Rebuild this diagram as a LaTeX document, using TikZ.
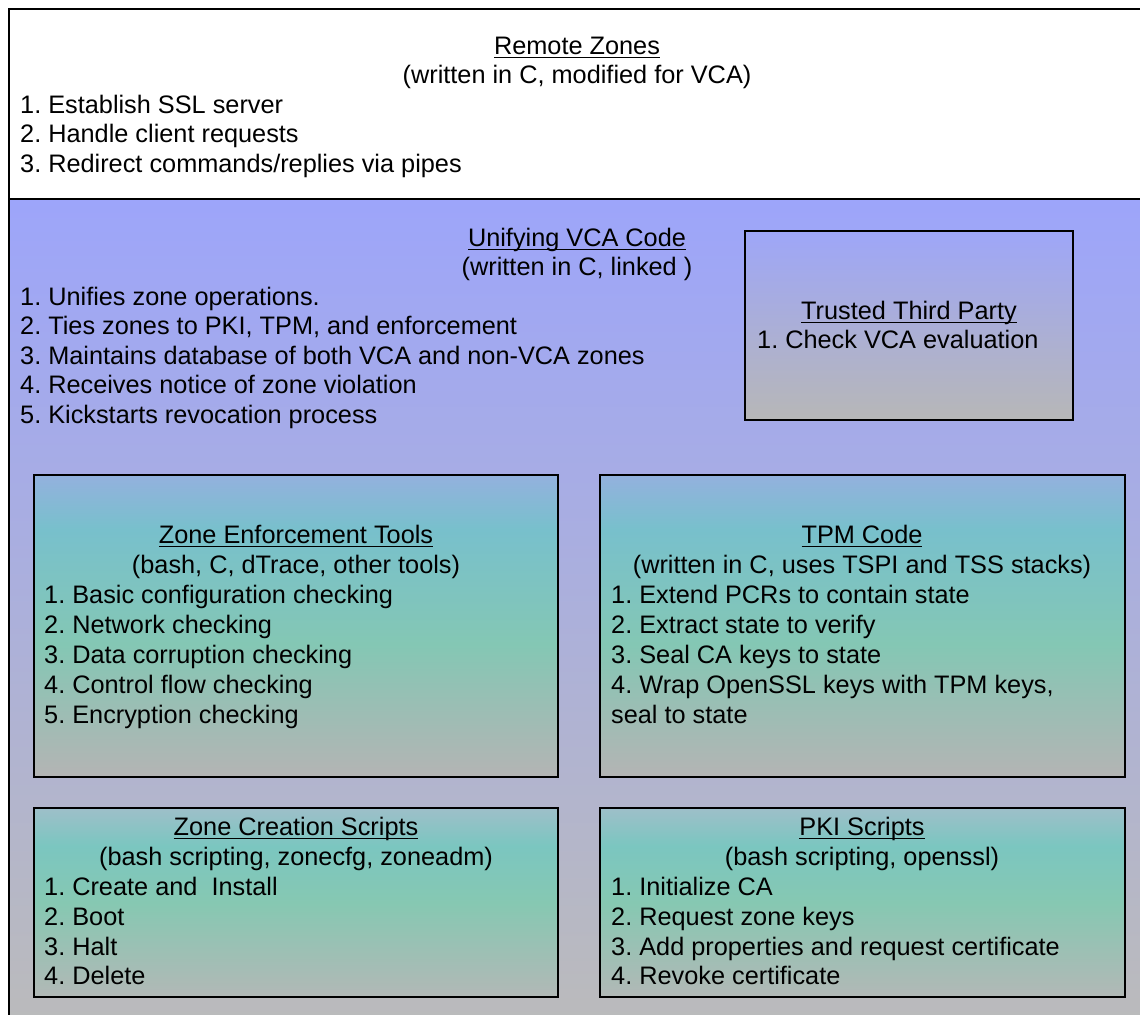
\documentclass[tikz,border=0pt]{standalone}
\usepackage{fontspec}
\setmainfont{Liberation Sans}

% colours of the panels and boxes
\definecolor{panelblue}{HTML}{9DA5FA}
\definecolor{panelgray}{HTML}{BBBBBB}
\definecolor{tttop}{HTML}{9EA6F8}
\definecolor{ttbottom}{HTML}{B7B7B7}
\definecolor{boxblue}{HTML}{93B1DE}
\definecolor{boxteal}{HTML}{78C0CC}
\definecolor{boxgreen}{HTML}{84C7B4}
\definecolor{boxgray}{HTML}{B4B4B4}
\definecolor{scrtop}{HTML}{9EBFC9}
\definecolor{scrteal}{HTML}{7BC6C0}
\definecolor{scrgreen}{HTML}{86C8B2}
\definecolor{scrgray}{HTML}{B2B8B6}

% vertical shadings of the boxes (the path maps to 25bp..75bp)
\pgfdeclareverticalshading{toolshade}{100bp}{%
  color(0bp)=(boxgray); color(25bp)=(boxgray);
  color(47bp)=(boxgreen); color(66bp)=(boxteal);
  color(75bp)=(boxblue); color(100bp)=(boxblue)}
\pgfdeclareverticalshading{scriptshade}{100bp}{%
  color(0bp)=(scrgray); color(25bp)=(scrgray);
  color(50bp)=(scrgreen); color(65bp)=(scrteal);
  color(75bp)=(scrtop); color(100bp)=(scrtop)}

% underlined title
\newcommand\ulined[1]{\setbox0=\hbox{#1}\rlap{\rule[-4bp]{\wd0}{1.2bp}}\box0}

\tikzset{
  frame/.style={draw=black, line width=1.6bp},
  toolbox/.style={frame, shading=toolshade},
  scriptbox/.style={frame, shading=scriptshade},
  txt/.style={inner sep=0pt, font=\fontsize{25.3bp}{30bp}\selectfont\frenchspacing},
  ttl/.style={txt, anchor=base},
  itm/.style={txt, anchor=base west},
}

\begin{document}
\begin{tikzpicture}[x=1bp, y=-1bp]
\useasboundingbox (0,0) rectangle (1140,1015);
\clip (0,0) rectangle (1140,1015);

% outer panels
\fill[white] (0,0) rectangle (1140,1015);
\shade[top color=panelblue, bottom color=panelgray] (9,199) rectangle (1146,1030);
\draw[frame] (9,9) rectangle (1146,1030);
\draw[frame] (9,199) -- (1146,199);

% Remote Zones
\node[ttl] (rz-t) at (577,54) {\ulined{Remote Zones}};
\node[ttl] (rz-s) at (577,83.5) {(written in C, modified for VCA)};
\node[itm] (rz-1) at (20,113) {1. Establish SSL server};
\node[itm] (rz-2) at (20,142.5) {2. Handle client requests};
\node[itm] (rz-3) at (20,172) {3. Redirect commands/replies via pipes};

% Unifying VCA Code
\node[ttl] (uv-t) at (577,246) {\ulined{Unifying VCA Code}};
\node[ttl] (uv-s) at (577,275.5) {(written in C, linked )};
\node[itm] (uv-1) at (20,305) {1. Unifies zone operations.};
\node[itm] (uv-2) at (20,334.5) {2. Ties zones to PKI, TPM, and enforcement};
\node[itm] (uv-3) at (20,364) {3. Maintains database of both VCA and non-VCA zones};
\node[itm] (uv-4) at (20,393.5) {4. Receives notice of zone violation};
\node[itm] (uv-5) at (20,423) {5. Kickstarts revocation process};

% Trusted Third Party
\shade[frame, top color=tttop, bottom color=ttbottom] (745,231) rectangle (1073,420);
\node[ttl] (tt-t) at (909,319) {\ulined{Trusted Third Party}};
\node[itm] (tt-1) at (757,348) {1. Check VCA evaluation};

% Zone Enforcement Tools
\shade[toolbox] (34,475) rectangle (558,777);
\node[ttl] (ze-t) at (296,543) {\ulined{Zone Enforcement Tools}};
\node[ttl] (ze-s) at (296,573) {(bash, C, dTrace, other tools)};
\node[itm] (ze-1) at (44,603) {1. Basic configuration checking};
\node[itm] (ze-2) at (44,633) {2. Network checking};
\node[itm] (ze-3) at (44,663) {3. Data corruption checking};
\node[itm] (ze-4) at (44,693) {4. Control flow checking};
\node[itm] (ze-5) at (44,723) {5. Encryption checking};

% TPM Code
\shade[toolbox] (600,475) rectangle (1125,777);
\node[ttl] (tp-t) at (862,543) {\ulined{TPM Code}};
\node[ttl] (tp-s) at (862,573) {(written in C, uses TSPI and TSS stacks)};
\node[itm] (tp-1) at (611,603) {1. Extend PCRs to contain state};
\node[itm] (tp-2) at (611,633) {2. Extract state to verify};
\node[itm] (tp-3) at (611,663) {3. Seal CA keys to state};
\node[itm] (tp-4) at (611,693) {4. Wrap OpenSSL keys with TPM keys,};
\node[itm] (tp-5) at (611,723) {seal to state};

% Zone Creation Scripts
\shade[scriptbox] (34,808) rectangle (558,997);
\node[ttl] (zc-t) at (296,835) {\ulined{Zone Creation Scripts}};
\node[ttl] (zc-s) at (296,865) {(bash scripting, zonecfg, zoneadm)};
\node[itm] (zc-1) at (44,895) {1. Create and\ \ Install};
\node[itm] (zc-2) at (44,925) {2. Boot};
\node[itm] (zc-3) at (44,955) {3. Halt};
\node[itm] (zc-4) at (44,984) {4. Delete};

% PKI Scripts
\shade[scriptbox] (600,808) rectangle (1125,997);
\node[ttl] (pk-t) at (862,835) {\ulined{PKI Scripts}};
\node[ttl] (pk-s) at (862,865) {(bash scripting, openssl)};
\node[itm] (pk-1) at (611,895) {1. Initialize CA};
\node[itm] (pk-2) at (611,925) {2. Request zone keys};
\node[itm] (pk-3) at (611,955) {3. Add properties and request certificate};
\node[itm] (pk-4) at (611,984) {4. Revoke certificate};
\end{tikzpicture}
\end{document}
